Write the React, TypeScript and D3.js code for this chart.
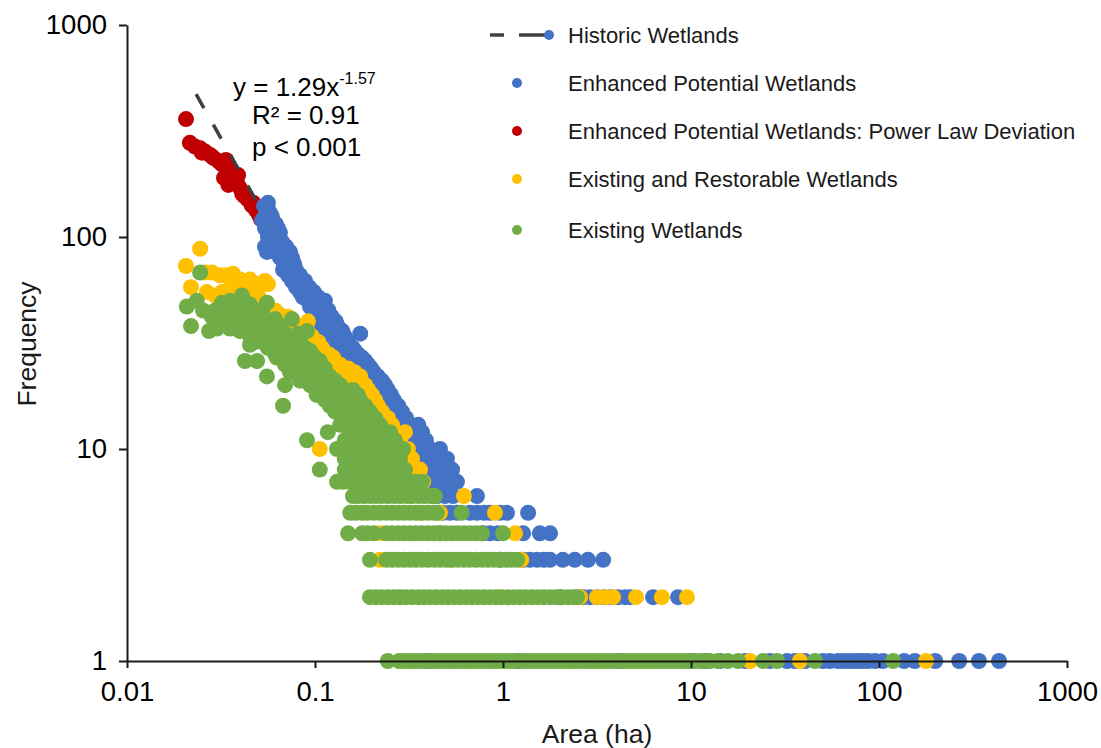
import { useEffect, useRef } from "react";
import * as d3 from "d3";

// [frequency, areas (ha)]
type Row = [number, number[]];

const xTicks = [0.01, 0.1, 1, 10, 100, 1000];
const yTicks = [1, 10, 100, 1000];

// power law fit on historic wetlands
const fitCoef = 1.29;
const fitExp = -1.57;
const fitRange = [0.0233, 0.051];

const legendLabels = [
  "Historic Wetlands",
  "Enhanced Potential Wetlands",
  "Enhanced Potential Wetlands: Power Law Deviation",
  "Existing and Restorable Wetlands",
  "Existing Wetlands",
];

const deviation: Row[] = [
  [360, [0.0206]], [278, [0.0216]], [267, [0.023]], [262, [0.0245]], [253, [0.026]],
  [250, [0.025]], [244, [0.0276]], [240, [0.0283]], [236, [0.0288]], [231, [0.0336]],
  [228, [0.0306]], [220, [0.032]], [211, [0.0344]], [207, [0.0349]], [200, [0.0362]],
  [196, [0.039]], [190, [0.0328, 0.036]], [186, [0.0375]], [180, [0.0385]], [176, [0.0346]],
  [170, [0.0399]], [160, [0.041]], [156, [0.042]], [150, [0.044]], [145, [0.047]],
  [141, [0.046]], [134, [0.0485]], [127, [0.0504]], [121, [0.0517]],
];

const enhanced: Row[] = [
  [145, [0.0562]], [140, [0.0536]], [135, [0.0562]], [130, [0.0549, 0.0576]], [125, [0.059]],
  [120, [0.0523, 0.059]], [115, [0.0562, 0.062]], [110, [0.0542, 0.0635]], [105, [0.0576, 0.0651]],
  [100, [0.0562, 0.0635]], [95, [0.059, 0.0667]], [90, [0.0542, 0.062, 0.0702]],
  [85, [0.0555, 0.0613, 0.0667, 0.0736]], [80, [0.0651, 0.0702, 0.0754]], [75, [0.0684, 0.0773]],
  [70, [0.0676, 0.0736, 0.0792]], [66, [0.0718, 0.0773, 0.0832]], [62, [0.0754, 0.0812, 0.0885]],
  [58, [0.0792, 0.0852, 0.093]], [55, [0.0832, 0.0907, 0.0988]], [52, [0.0862, 0.0941, 0.104]],
  [50, [0.0918, 0.101, 0.113]], [47, [0.0941, 0.101, 0.109]], [45, [0.0976, 0.106, 0.118]],
  [42, [0.101, 0.112, 0.123]], [40, [0.106, 0.118, 0.129]], [38, [0.109, 0.12, 0.132]],
  [36, [0.114, 0.126, 0.14]], [35, [0.174]], [34, [0.118, 0.129, 0.144]], [32, [0.123, 0.136, 0.15]],
  [30, [0.129, 0.143, 0.159]], [29, [0.136, 0.15, 0.163]], [28, [0.14, 0.154, 0.169]],
  [27, [0.146, 0.161, 0.178]], [26, [0.15, 0.165, 0.185]], [25, [0.159, 0.174, 0.192]],
  [24, [0.163, 0.181, 0.199]], [23, [0.169, 0.187, 0.206]], [22, [0.174, 0.194, 0.216]],
  [21, [0.182, 0.201, 0.227]], [20, [0.192, 0.211, 0.236]], [19, [0.199, 0.222, 0.244]],
  [18, [0.206, 0.23, 0.254]], [17, [0.216, 0.239, 0.263]], [16, [0.225, 0.251, 0.277]],
  [15, [0.236, 0.263, 0.29]], [14, [0.244, 0.273, 0.305]], [13, [0.254, 0.287, 0.32, 0.354]],
  [12, [0.266, 0.301, 0.336, 0.371]], [11, [0.283, 0.316, 0.354, 0.389]],
  [10, [0.298, 0.332, 0.371, 0.409, 0.462]], [9, [0.301, 0.34, 0.385, 0.435, 0.503]],
  [8, [0.32, 0.362, 0.409, 0.462, 0.536]], [7, [0.385, 0.419, 0.462, 0.503, 0.569]],
  [6, [0.445, 0.491, 0.542, 0.727]],
  [5, [0.479, 0.522, 0.569, 0.667, 0.727, 0.792, 0.852, 0.963, 1.05, 1.36]],
  [4, [0.462, 0.782, 0.852, 0.94, 1.28, 1.57, 1.78]],
  [3, [0.963, 1.28, 1.39, 1.52, 1.65, 1.78, 2.08, 2.41, 2.83, 3.41]],
  [2, [2.01, 2.67, 2.9, 3.16, 3.44, 3.75, 4.09, 4.46, 4.74, 6.28, 8.53]],
  [1, [0.409, 1.23, 4.19, 9.9, 11.9, 14.3, 19.4, 26.3, 32.4, 35.7, 40.4, 50.4, 54.8, 60.5, 64.4,
    68.4, 72.8, 77.3, 82.2, 87.4, 95.2, 105, 136, 155, 199, 267, 340, 435]],
];

const restorable: Row[] = [
  [88, [0.0245]], [73, [0.0206]], [68, [0.026, 0.0283]], [67, [0.0366]], [66, [0.0312, 0.0336]],
  [63, [0.0399, 0.0451]], [62, [0.0424, 0.0542]], [60, [0.048, 0.0562]], [58, [0.0219, 0.038]],
  [56, [0.0344, 0.0492]], [55, [0.0266, 0.032]], [53, [0.0294, 0.0424]], [51, [0.0353, 0.051]],
  [48, [0.0399, 0.0466]], [45, [0.0523, 0.0576, 0.0613]], [43, [0.048, 0.0651]],
  [42, [0.0562, 0.0718]], [40, [0.0651, 0.0764, 0.0918]], [38, [0.0693, 0.0832]],
  [36, [0.0736, 0.0792, 0.0885]], [34, [0.0783, 0.0852, 0.0964]], [32, [0.0832, 0.0941, 0.104]],
  [30, [0.0885, 0.1, 0.109]], [28, [0.0964, 0.109, 0.118]], [27, [0.104, 0.118, 0.125]],
  [25, [0.106, 0.128, 0.136]], [24, [0.12, 0.14, 0.15]], [23, [0.128, 0.15, 0.163]],
  [22, [0.136, 0.163, 0.174]], [21, [0.144, 0.159, 0.169]], [20, [0.141, 0.154, 0.185]],
  [19, [0.159, 0.178, 0.192]], [18, [0.163, 0.187, 0.201]], [17, [0.154, 0.174, 0.192, 0.209]],
  [16, [0.169, 0.201, 0.216]], [15, [0.178, 0.211, 0.227]], [14, [0.185, 0.222, 0.244]],
  [13, [0.196, 0.227, 0.257]], [12, [0.209, 0.251, 0.301]], [11, [0.222, 0.266, 0.283]],
  [10, [0.106, 0.236, 0.277, 0.312]], [9, [0.251, 0.294, 0.328]], [8, [0.266, 0.301, 0.332, 0.362]],
  [7, [0.283, 0.32, 0.376]], [6, [0.32, 0.424, 0.62]], [5, [0.362, 0.462, 0.906]],
  [4, [0.222, 0.462, 1.16]], [3, [0.222, 0.522, 1.25]],
  [2, [0.283, 0.963, 2.57, 3.16, 3.49, 3.85, 5.1, 7.0, 9.52]],
  [1, [0.283, 3.28, 20.6, 38.0, 178]],
];

const existing: Row[] = [
  [68, [0.0245]], [53, [0.0409]], [50, [0.0235, 0.0353]], [49, [0.032, 0.0555]],
  [48, [0.0366, 0.0451]], [47, [0.0208, 0.0399]], [45, [0.0254, 0.0294, 0.048, 0.0523]],
  [43, [0.0332, 0.0375, 0.0424]], [42, [0.0283, 0.048]], [41, [0.0384, 0.0492, 0.0613, 0.0754]],
  [40, [0.0312, 0.0542]], [38, [0.0219, 0.0424, 0.0651]], [37, [0.0301, 0.0353, 0.0466, 0.0598]],
  [36, [0.0273, 0.0399, 0.0907]], [35, [0.0523, 0.0693, 0.0812]], [34, [0.0451, 0.0613]],
  [33, [0.0576, 0.0676, 0.0783]], [32, [0.048, 0.0523, 0.0832]], [31, [0.0451, 0.0635, 0.0718]],
  [30, [0.0562, 0.0783, 0.0885]], [29, [0.0667, 0.0736, 0.0941]], [28, [0.0613, 0.0832, 0.0964]],
  [27, [0.0627, 0.0736, 0.0885, 0.1]], [26, [0.0424, 0.0492, 0.0783, 0.106]],
  [25, [0.0693, 0.0832, 0.0964]], [24, [0.0802, 0.0862, 0.104, 0.113]], [23, [0.0736, 0.0941, 0.109]],
  [22, [0.0555, 0.0885, 0.1, 0.12]], [21, [0.0832, 0.104, 0.117, 0.128]],
  [20, [0.0693, 0.0941, 0.113, 0.136]], [19, [0.104, 0.125, 0.144, 0.159]],
  [18, [0.102, 0.12, 0.136, 0.154, 0.169]], [17, [0.113, 0.131, 0.15, 0.174]],
  [16, [0.0676, 0.12, 0.144, 0.163, 0.185]], [15, [0.128, 0.148, 0.167, 0.196]],
  [14, [0.141, 0.163, 0.185, 0.209]], [13, [0.136, 0.163, 0.192, 0.222]],
  [12, [0.117, 0.154, 0.178, 0.201, 0.23, 0.251]], [11, [0.0907, 0.144, 0.169, 0.196, 0.227, 0.266]],
  [10, [0.131, 0.15, 0.174, 0.201, 0.236, 0.266, 0.294]],
  [9, [0.144, 0.163, 0.185, 0.209, 0.236, 0.266, 0.283]],
  [8, [0.106, 0.144, 0.163, 0.185, 0.209, 0.236, 0.266, 0.301]],
  [7, [0.131, 0.141, 0.154, 0.165, 0.178, 0.19, 0.206, 0.222, 0.239, 0.257, 0.277, 0.298, 0.32,
    0.344, 0.371]],
  [6, [0.159, 0.169, 0.182, 0.196, 0.211, 0.227, 0.244, 0.263, 0.283, 0.305, 0.328, 0.354, 0.38,
    0.409, 0.435]],
  [5, [0.154, 0.165, 0.178, 0.19, 0.206, 0.222, 0.239, 0.257, 0.277, 0.298, 0.32, 0.344, 0.371,
    0.399, 0.43, 0.445, 0.603]],
  [4, [0.15, 0.178, 0.19, 0.206, 0.239, 0.257, 0.277, 0.298, 0.32, 0.344, 0.371, 0.399, 0.43,
    0.462, 0.497, 0.536, 0.576, 0.62, 0.667, 0.718, 0.773, 1.0]],
  [3, [0.196, 0.239, 0.257, 0.277, 0.298, 0.32, 0.344, 0.371, 0.399, 0.43, 0.462, 0.497, 0.536,
    0.576, 0.62, 0.667, 0.718, 0.773, 0.833, 0.896, 0.963, 1.04, 1.11, 1.19]],
  [2, [0.196, 0.211, 0.227, 0.244, 0.263, 0.283, 0.305, 0.328, 0.354, 0.38, 0.409, 0.44, 0.474,
    0.51, 0.549, 0.59, 0.636, 0.684, 0.736, 0.792, 0.852, 0.917, 0.987, 1.06, 1.14, 1.23, 1.32,
    1.42, 1.53, 1.65, 1.78, 1.91, 2.06, 2.22, 2.38, 2.48]],
  [1, [0.244, 0.28, 0.301, 0.32, 0.34, 0.362, 0.385, 0.409, 0.435, 0.462, 0.491, 0.522, 0.555,
    0.59, 0.628, 0.667, 0.709, 0.754, 0.802, 0.852, 0.906, 0.963, 1.02, 1.09, 1.16, 1.23, 1.31,
    1.39, 1.48, 1.57, 1.67, 1.78, 1.89, 2.01, 2.13, 2.27, 2.41, 2.57, 2.73, 2.9, 3.08, 3.28, 3.49,
    3.71, 3.94, 4.19, 4.46, 4.74, 5.04, 5.36, 5.7, 6.06, 6.44, 6.85, 7.28, 7.74, 8.23, 8.75, 9.31,
    9.9, 10.5, 11.2, 11.9, 12.6, 13.9, 15.7, 17.8, 24.2, 28.7, 45.7, 119]],
];

const BLUE = "#4472C4";
const RED = "#C00000";
const YELLOW = "#FFC000";
const GREEN = "#70AD47";
const FONT = "'Liberation Sans', Arial, sans-serif";

const flatten = (rows: Row[]) =>
  rows.flatMap(([f, areas]) => areas.map((a) => ({ area: a, freq: f })));

export default function App() {
  const svgRef = useRef<SVGSVGElement | null>(null);

  useEffect(() => {
    const svg = d3.select(svgRef.current).select<SVGGElement>(".plot");
    svg.selectAll("*").remove();

    // Scales
    const x = d3.scaleLog().domain([0.01, 1000]).range([127, 1067]);
    const y = d3.scaleLog().domain([1, 1000]).range([661, 25]);

    // Points (blue drawn over red, green on top)
    const series = [
      { data: flatten(deviation), color: RED },
      { data: flatten(enhanced), color: BLUE },
      { data: flatten(restorable), color: YELLOW },
      { data: flatten(existing), color: GREEN },
    ];
    series.forEach((s, i) => {
      svg
        .append("g")
        .selectAll(`circle.s${i}`)
        .data(s.data)
        .join("circle")
        .attr("class", `s${i}`)
        .attr("cx", (d) => x(d.area))
        .attr("cy", (d) => y(d.freq))
        .attr("r", 8)
        .attr("fill", s.color);
    });

    // Axes
    const xAxis = svg
      .append("g")
      .attr("transform", "translate(0,661)")
      .call(
        d3
          .axisBottom(x)
          .tickValues(xTicks)
          .tickFormat((d) => String(d))
          .tickSize(7)
          .tickPadding(13)
          .tickSizeOuter(0)
      );
    const yAxis = svg
      .append("g")
      .attr("transform", "translate(127,0)")
      .call(
        d3
          .axisLeft(y)
          .tickValues(yTicks)
          .tickFormat((d) => String(d))
          .tickSize(8)
          .tickPadding(12)
          .tickSizeOuter(0)
      );
    [xAxis, yAxis].forEach((g) => {
      g.attr("font-size", 27.5).attr("font-family", FONT);
      g.selectAll("path, line").attr("stroke", "#1a1a1a").attr("stroke-width", 2);
      g.selectAll("text").attr("fill", "#000");
    });

    // Power law fit line
    const fitLine = d3
      .line<number>()
      .x((d) => x(d))
      .y((d) => y(fitCoef * Math.pow(d, fitExp)));
    svg
      .append("path")
      .attr("d", fitLine(fitRange))
      .attr("fill", "none")
      .attr("stroke", "#404040")
      .attr("stroke-width", 3.5)
      .attr("stroke-dasharray", "16 19");
  }, []);

  const legendColors = [BLUE, BLUE, RED, YELLOW, GREEN];
  const legendY = [35, 83, 131, 179, 230];

  return (
    <svg
      ref={svgRef}
      width={1101}
      height={748}
      style={{ position: "absolute", left: 0, top: 0, background: "#fff" }}
      fontFamily={FONT}
    >
      <g className="plot" />

      {/* fit equation */}
      <text x={233} y={96} fontSize={26} fill="#000">
        y = 1.29x
        <tspan dy={-12} fontSize={16}>-1.57</tspan>
      </text>
      <text x={252} y={124} fontSize={26} fill="#000">R² = 0.91</text>
      <text x={252} y={156} fontSize={26} fill="#000">p &lt; 0.001</text>

      {/* legend */}
      <line x1={490} x2={504} y1={35} y2={35} stroke="#404040" strokeWidth={3.5} />
      <line x1={519} x2={546} y1={35} y2={35} stroke="#404040" strokeWidth={3.5} />
      {legendLabels.map((label, i) => (
        <g key={label}>
          <circle cx={i === 0 ? 549 : 517} cy={legendY[i]} r={5} fill={legendColors[i]} />
          <text x={568} y={legendY[i] + 7.5} fontSize={22} fill="#1a1a1a">
            {label}
          </text>
        </g>
      ))}

      {/* axis titles */}
      <text x={597} y={743} fontSize={26.5} textAnchor="middle" fill="#1a1a1a">
        Area (ha)
      </text>
      <text
        transform="translate(36,344) rotate(-90)"
        fontSize={26.5}
        textAnchor="middle"
        fill="#1a1a1a"
      >
        Frequency
      </text>
    </svg>
  );
}
